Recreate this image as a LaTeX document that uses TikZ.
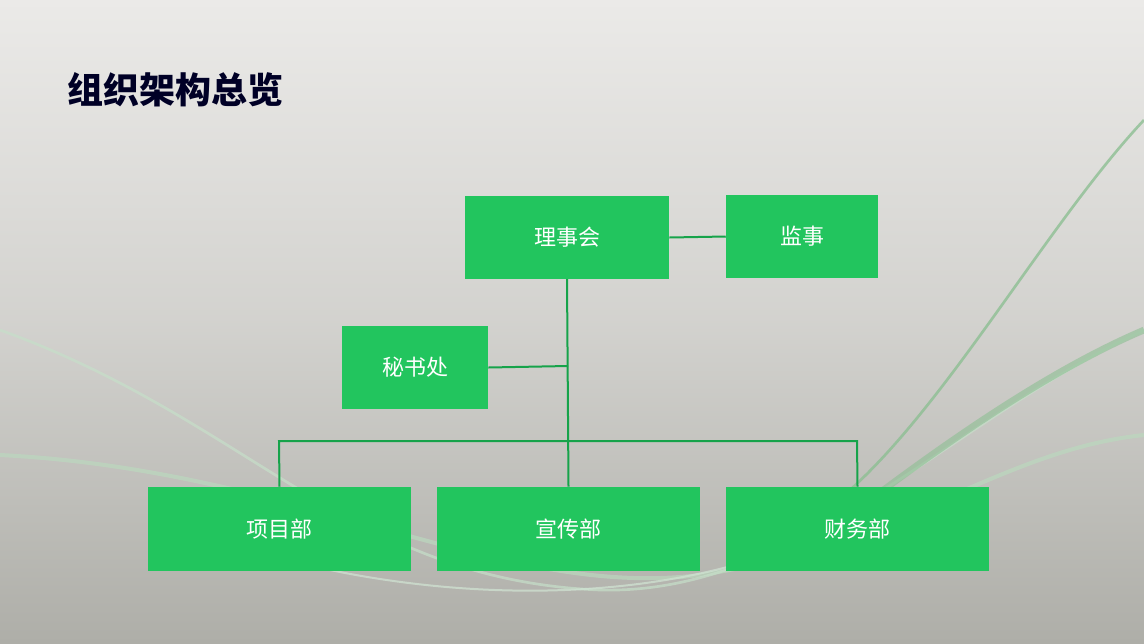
\documentclass[tikz,border=0pt]{standalone}
\usepackage{fontspec}
\newfontfamily\cjk{Noto Sans CJK SC}
\begin{document}
\begin{tikzpicture}[x=0.75pt,y=-0.75pt,
  box/.style={fill=boxg,draw=none,text=white,font=\cjk\fontsize{16.5}{18}\selectfont,inner sep=0},
  conn/.style={draw=lineg,line width=1.5pt}]
\definecolor{boxg}{HTML}{22C55E}
\definecolor{lineg}{HTML}{16A34A}
\definecolor{bgtop}{HTML}{EBEAE8}
\definecolor{bgbot}{HTML}{AEAEA8}
\definecolor{sw}{HTML}{8DBF93}
\useasboundingbox (0,0) rectangle (1144,643);
\shade[top color=bgtop,bottom color=bgbot,middle color=bgtop!60!bgbot] (0,0) rectangle (1144,643);
% decorative curves
\draw[sw!60!white,line width=3pt,opacity=.7] (0,455) .. controls (300,470) and (500,600) .. (700,575) .. controls (900,545) and (1000,450) .. (1144,435);
\draw[sw!50!white,line width=2pt,opacity=.7] (0,330) .. controls (250,420) and (350,580) .. (600,590) .. controls (800,595) and (950,420) .. (1144,330);
\draw[sw,line width=2pt,opacity=.8] (850,490) .. controls (950,400) and (1050,220) .. (1144,120);
\draw[sw,line width=5pt,opacity=.6] (870,500) .. controls (950,440) and (1050,370) .. (1144,330);
\draw[sw!40!white,line width=1.5pt,opacity=.7] (330,570) .. controls (500,605) and (700,600) .. (850,520);
\node[anchor=west,font=\cjk\bfseries\fontsize{27}{30}\selectfont,text=black!85!blue] (title) at (63,90) {组织架构总览};
\node[box,minimum width=153pt,minimum height=62pt] (lsh) at (567,237.5) {理事会};
\node[box,minimum width=114pt,minimum height=62pt] (js) at (802,236.5) {监事};
\node[box,minimum width=109.5pt,minimum height=62pt] (msc) at (415,367.5) {秘书处};
\node[box,minimum width=197pt,minimum height=63pt] (xm) at (279.5,529) {项目部};
\node[box,minimum width=197pt,minimum height=63pt] (xc) at (568.5,529) {宣传部};
\node[box,minimum width=197pt,minimum height=63pt] (cw) at (857.5,529) {财务部};
\coordinate (j1) at (568,366);
\coordinate (hl) at (279,441);
\coordinate (hr) at (857,441);
\draw[conn] (lsh.east) -- (js.west);
\draw[conn] (lsh.south) -- (xc.north);
\draw[conn] (msc.east) -- (j1);
\draw[conn] (xm.north) -- (hl) -- (hr) -- (cw.north);
\end{tikzpicture}
\end{document}
